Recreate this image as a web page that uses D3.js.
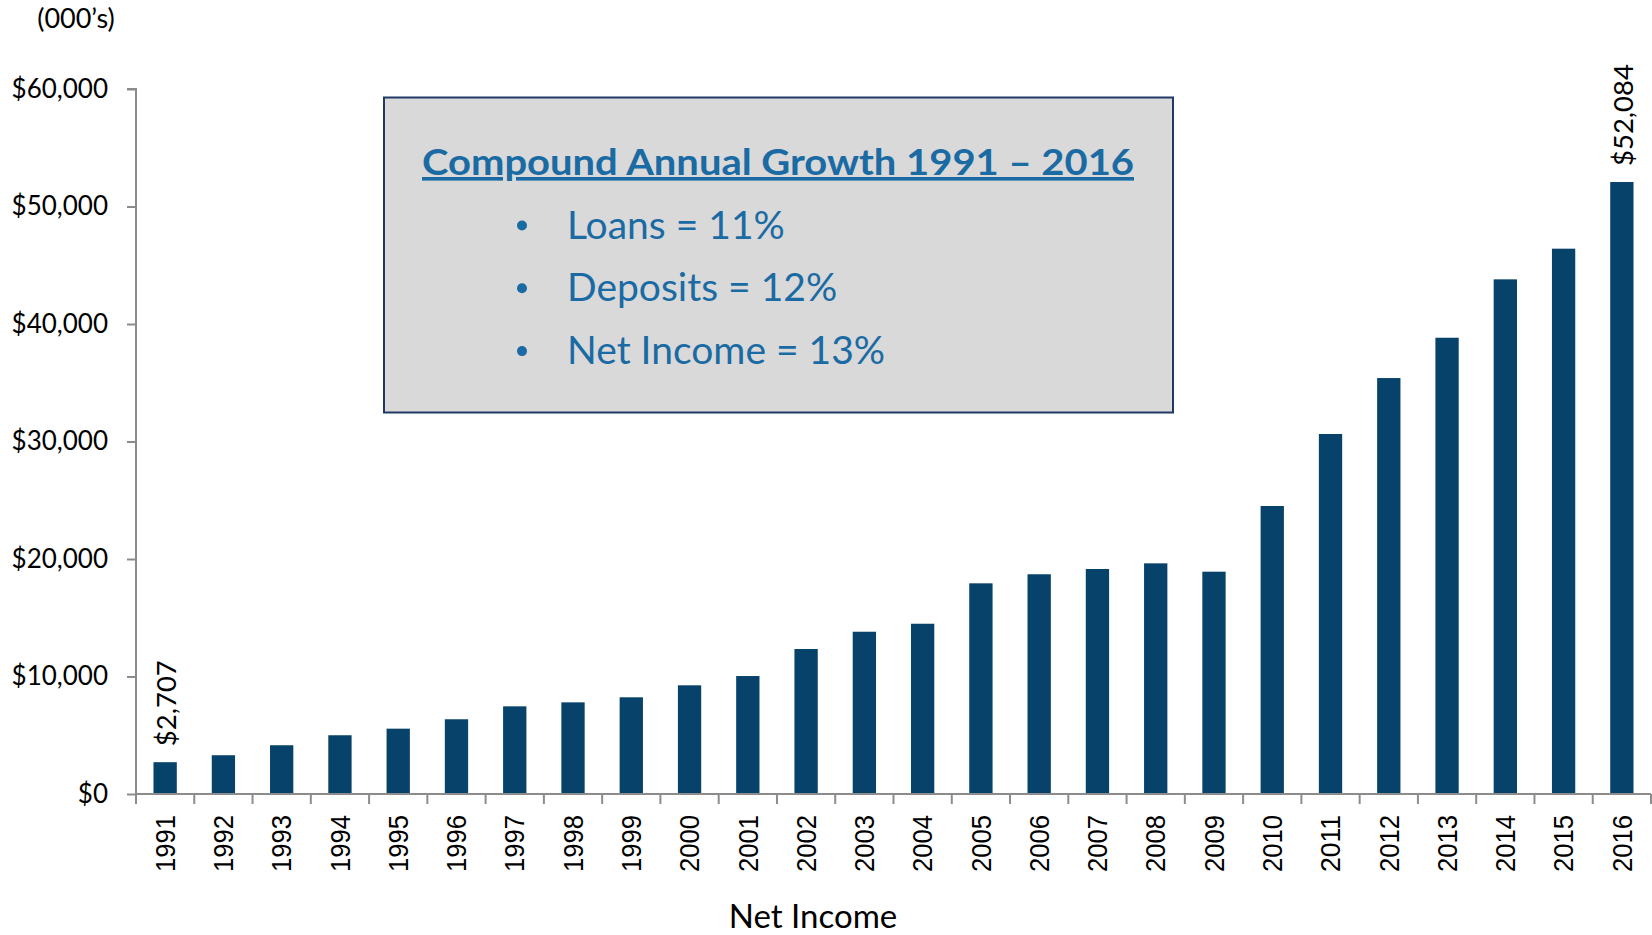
<!DOCTYPE html>
<html>
<head>
<meta charset="utf-8">
<script src="https://cdn.jsdelivr.net/npm/d3@7"></script>
<style>
  html, body { margin: 0; padding: 0; background: #ffffff; }
  svg { display: block; }
</style>
</head>
<body>
<svg id="chart" width="1652" height="935"></svg>
<script>
// ---- data ----
const years = ['1991','1992','1993','1994','1995','1996','1997','1998','1999','2000',
               '2001','2002','2003','2004','2005','2006','2007','2008','2009','2010',
               '2011','2012','2013','2014','2015','2016'];
const netIncome = [2707, 3300, 4150, 5000, 5560, 6360, 7460, 7800, 8230, 9250,
                   10040, 12340, 13810, 14490, 17930, 18700, 19150, 19630, 18920, 24510,
                   30640, 35400, 38830, 43800, 46410, 52084];
const yTicks = [0, 10000, 20000, 30000, 40000, 50000, 60000];
const labeledYears = ['1991', '2016'];
const unitLabel = '(000\u2019s)';
const axisTitle = 'Net Income';
const growthTitle = 'Compound Annual Growth 1991 \u2013 2016';
const growthItems = ['Loans = 11%', 'Deposits = 12%', 'Net Income = 13%'];

// ---- layout ----
const svg = d3.select('#chart');
const mLeft = 136, mRight = 1651, mTop = 89, mBottom = 794;
const barColor = '#07426a';
const axisColor = '#8c8c8c';
const boxText = '#1a6aa3';
const calibriLike = 'Lato, "Open Sans", sans-serif';

const data = years.map((yr, i) => ({ year: yr, value: netIncome[i] }));

const x = d3.scaleBand().domain(years).range([mLeft, mRight]).paddingInner(0.6).paddingOuter(0.3);
const xb = d3.scaleBand().domain(years).range([mLeft, mRight]).padding(0);
const y = d3.scaleLinear().domain([0, 60000]).range([mBottom, mTop]);

// bars
svg.append('g').selectAll('rect').data(data).join('rect')
  .attr('x', d => x(d.year))
  .attr('y', d => y(d.value))
  .attr('width', x.bandwidth())
  .attr('height', d => y(0) - y(d.value))
  .attr('fill', barColor);

// y axis
const yAxis = svg.append('g').attr('transform', `translate(${mLeft},0)`)
  .call(d3.axisLeft(y).tickValues(yTicks).tickSize(9).tickPadding(19)
        .tickFormat(d => '$' + d3.format(',')(d)));
yAxis.select('.domain').attr('stroke', axisColor).attr('stroke-width', 2)
  .attr('d', `M-9,${mTop}H0V${mBottom}`);
yAxis.selectAll('.tick line').attr('stroke', axisColor).attr('stroke-width', 2);
yAxis.selectAll('.tick text').attr('fill', '#000').style('font-family', calibriLike)
  .style('font-size', '26px');

// x axis
const xAxis = svg.append('g').attr('transform', `translate(0,${mBottom})`)
  .call(d3.axisBottom(xb).tickSize(0).tickPadding(0));
xAxis.select('.domain').attr('stroke', axisColor).attr('stroke-width', 2)
  .attr('d', `M${mLeft},0H${mRight}`);
xAxis.selectAll('.tick text')
  .attr('fill', '#000')
  .style('font-family', '"Liberation Sans", Arial, sans-serif')
  .style('font-size', '27px')
  .attr('text-anchor', 'end')
  .attr('transform', 'rotate(-90)')
  .attr('x', -21).attr('y', 0).attr('dy', '0.36em')
  .attr('textLength', 57).attr('lengthAdjust', 'spacingAndGlyphs');
const boundaries = years.map(d => xb(d)).concat([mRight]);
xAxis.append('g').selectAll('line').data(boundaries).join('line')
  .attr('x1', d => d).attr('x2', d => d)
  .attr('y1', 0).attr('y2', 10)
  .attr('stroke', axisColor).attr('stroke-width', 2);

// value labels
svg.append('g').selectAll('text').data(data.filter(d => labeledYears.includes(d.year))).join('text')
  .attr('transform', d => `translate(${x(d.year) + x.bandwidth() / 2},${y(d.value) - 16}) rotate(-90)`)
  .attr('dy', '0.4em')
  .attr('text-anchor', 'start')
  .style('font-family', calibriLike)
  .style('font-size', '27.5px')
  .attr('fill', '#000')
  .text(d => '$' + d3.format(',')(d.value));

// unit label
svg.append('text').attr('x', 76).attr('y', 28).attr('text-anchor', 'middle')
  .style('font-family', calibriLike).style('font-size', '27px').attr('fill', '#000')
  .text(unitLabel);

// axis title
svg.append('text').attr('x', 813).attr('y', 928).attr('text-anchor', 'middle')
  .style('font-family', calibriLike).style('font-size', '33px').attr('fill', '#000')
  .text(axisTitle);

// growth box
const box = svg.append('g');
box.append('rect').attr('x', 384).attr('y', 97.5).attr('width', 789).attr('height', 315)
  .attr('fill', '#d9d9d9').attr('stroke', '#1f3864').attr('stroke-width', 2);
box.append('text').attr('x', 422).attr('y', 175)
  .style('font-family', calibriLike).style('font-size', '36px').style('font-weight', 700)
  .style('text-decoration', 'underline')
  .attr('fill', boxText)
  .attr('textLength', 712).attr('lengthAdjust', 'spacingAndGlyphs')
  .text(growthTitle);
const rows = box.append('g').selectAll('g').data(growthItems).join('g')
  .attr('transform', (d, i) => `translate(0,${238.5 + i * 62.8})`);
rows.append('circle').attr('cx', 522).attr('cy', -13).attr('r', 5).attr('fill', boxText);
rows.append('text').attr('x', 567).attr('y', 0)
  .style('font-family', calibriLike).style('font-size', '39px')
  .attr('fill', boxText)
  .text(d => d);
</script>
</body>
</html>
